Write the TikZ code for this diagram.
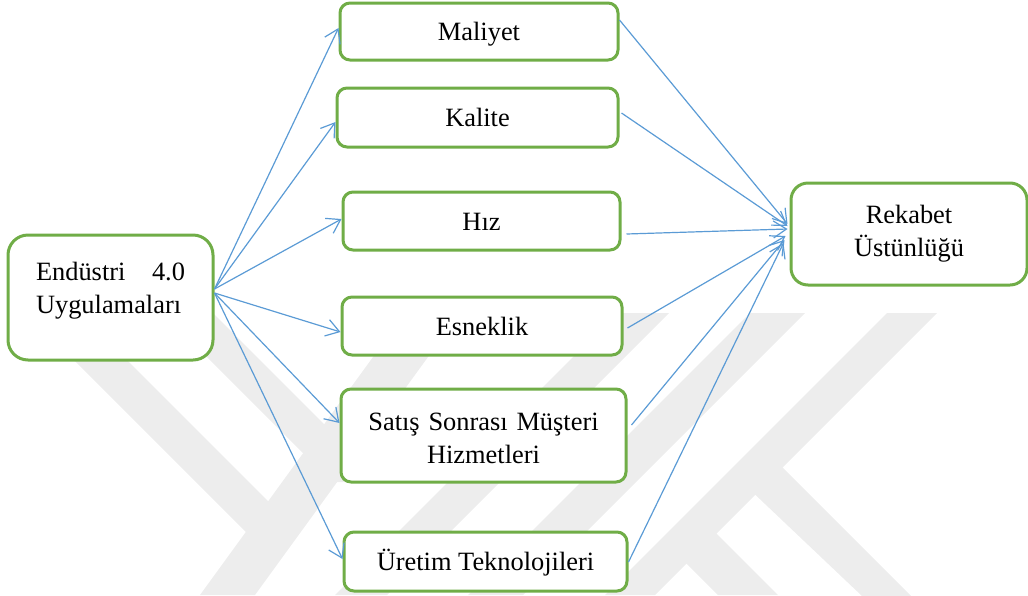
\documentclass[tikz,border=0pt]{standalone}
\usepackage{fontspec}
\setmainfont{Liberation Serif}
\usetikzlibrary{arrows.meta,calc}
\definecolor{boxgreen}{HTML}{70AD47}
\definecolor{arrowblue}{HTML}{5B9BD5}
\definecolor{wmgray}{RGB}{237,237,237}
\begin{document}
\begin{tikzpicture}[x=1pt,y=-1pt,
  box/.style={draw=boxgreen, line width=3pt, fill=white, rounded corners=10pt,
    inner sep=0pt, font=\fontsize{26.4pt}{33pt}\selectfont,
    text height=18pt, text depth=0pt},
  arr/.style={draw=arrowblue, line width=1.2pt,
    -{Straight Barb[length=13pt,width=17pt]}},
  wm/.style={fill=wmgray, draw=none}]
\useasboundingbox (0,0) rectangle (1028,595);
% faint background watermark
\fill[wm] (27,313) -- (80,313) -- (299,532) -- (246,532) -- cycle;
\fill[wm] (405,313) -- (460,313) -- (255,595) -- (200,595) -- cycle;
\fill[wm] (163,313) -- (213,313) -- (382,482) -- (332,482) -- cycle;
\fill[wm] (617,313) -- (669,313) -- (387,595) -- (335,595) -- cycle;
\fill[wm] (750,313) -- (805,313) -- (523,595) -- (468,595) -- cycle;
\fill[wm] (887,313) -- (937,313) -- (655,595) -- (605,595) -- cycle;
\fill[wm] (775,460) -- (911,596) -- (862,596) -- (745,485) -- cycle;
\fill[wm] (705,522) -- (778,595) -- (718,595) -- (675,552) -- cycle;
% boxes
\node[box, rounded corners=20pt, minimum width=205pt, minimum height=125pt,
  text width=149pt, align=left, text depth=53pt] (end) at (110.5,297.5)
  {Endüstri\hfill 4.0\\Uygulamaları};
\node[box, minimum width=278pt, minimum height=57pt] (mal) at (479,31.5) {Maliyet};
\node[box, minimum width=281pt, minimum height=59pt] (kal) at (477.5,117.5) {Kalite};
\node[box, minimum width=277pt, minimum height=58pt] (hiz) at (481.5,221) {Hız};
\node[box, minimum width=280pt, minimum height=58pt] (esn) at (482,326) {Esneklik};
\node[box, minimum width=285pt, minimum height=93pt, text width=280pt,
  align=center, text depth=29pt] (sat) at (483.5,435.5)
  {Satış Sonrası Müşteri\\Hizmetleri};
\node[box, minimum width=283pt, minimum height=59pt] (ure) at (485.5,561.5) {Üretim Teknolojileri};
\node[box, rounded corners=17pt, minimum width=236pt, minimum height=102pt,
  text width=220pt, align=center, text depth=40pt] (rek) at (909,234)
  {Rekabet\\Üstünlüğü};
% connectors from the left box
\draw[arr] ($(end.east)+(0,-8.5)$) -- ($(mal.west)+(0,-3.5)$);
\draw[arr] ($(end.east)+(0,-8.5)$) -- ($(kal.west)+(0,4.5)$);
\draw[arr] ($(end.east)+(0,-8.5)$) -- ($(hiz.west)+(0,-2)$);
\draw[arr] ($(end.east)+(0,-4.5)$) -- ($(esn.west)+(0,6)$);
\draw[arr] ($(end.east)+(0,-4.5)$) -- ($(sat.west)+(0,-12.5)$);
\draw[arr] ($(end.east)+(0,-4.5)$) -- ($(ure.west)+(0,-2.5)$);
% connectors to the right box
\draw[arr] ($(mal.east)+(0,-11.5)$) -- ($(rek.west)+(-2,-10)$);
\draw[arr] ($(kal.east)+(2,-4.5)$) -- ($(rek.west)+(-2,-8)$);
\draw[arr] ($(hiz.east)+(5,13)$) -- ($(rek.west)+(-2,-5)$);
\draw[arr] ($(esn.east)+(4,2)$) -- ($(rek.west)+(-4,2)$);
\draw[arr] ($(sat.east)+(4,-10.5)$) -- ($(rek.west)+(-5,6)$);
\draw[arr] ($(ure.east)+(0,0.5)$) -- ($(rek.west)+(-6,9)$);
\end{tikzpicture}
\end{document}
